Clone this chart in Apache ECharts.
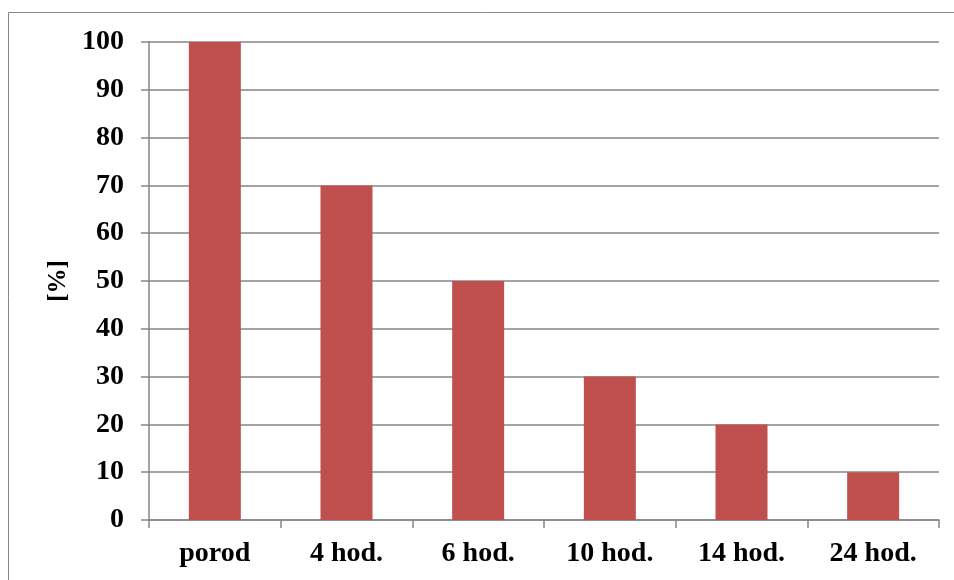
<!DOCTYPE html>
<html>
<head>
<meta charset="utf-8">
<script src="https://cdn.jsdelivr.net/npm/echarts@6/dist/echarts.min.js"></script>
<style>
  html, body { margin: 0; padding: 0; background: #fff; }
  #chart { width: 954px; height: 580px; }
</style>
</head>
<body>
<div id="chart"></div>
<script>
// Categories and values
const categories = ['porod', '4 hod.', '6 hod.', '10 hod.', '14 hod.', '24 hod.'];
const values = [100, 70, 50, 30, 20, 10];
const yAxisName = '[%]';

const font = '"Liberation Serif", "Times New Roman", serif';
const gridColor = '#868686';

const chart = echarts.init(document.getElementById('chart'));
chart.setOption({
  animation: false,
  backgroundColor: '#fff',
  graphic: [{
    type: 'rect',
    shape: { x: 8.5, y: 12.5, width: 1200, height: 1200 },
    style: { fill: 'none', stroke: gridColor, lineWidth: 1 },
    silent: true
  }],
  grid: { left: 149, right: 15, top: 42, bottom: 60, containLabel: false },
  xAxis: {
    type: 'category',
    data: categories,
    axisLine: { show: true, lineStyle: { color: gridColor, width: 1.5 } },
    axisTick: { show: true, length: 8, alignWithLabel: false, lineStyle: { color: gridColor, width: 1.5 } },
    axisLabel: { margin: 20, color: '#000', fontFamily: font, fontWeight: 'bold', fontSize: 28 }
  },
  yAxis: {
    type: 'value',
    min: 0, max: 100, interval: 10,
    name: yAxisName,
    nameLocation: 'middle',
    nameGap: 77,
    nameRotate: 90,
    nameTextStyle: { color: '#000', fontFamily: font, fontWeight: 'bold', fontSize: 25 },
    axisLine: { show: true, lineStyle: { color: gridColor, width: 1.5 } },
    axisTick: { show: true, length: 8, lineStyle: { color: gridColor, width: 1.5 } },
    splitLine: { show: true, lineStyle: { color: gridColor, width: 1.5 } },
    axisLabel: { margin: 25, color: '#000', fontFamily: font, fontWeight: 'bold', fontSize: 28 }
  },
  series: [{
    type: 'bar',
    data: values,
    barWidth: 52,
    itemStyle: { color: '#C0504D' }
  }]
});
</script>
</body>
</html>
